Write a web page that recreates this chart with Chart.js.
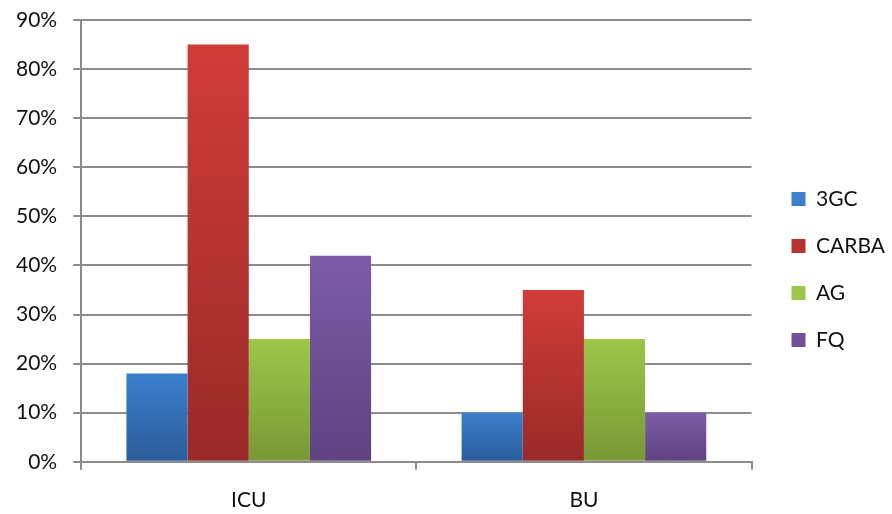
<!DOCTYPE html>
<html>
<head>
<meta charset="utf-8">
<script src="https://cdn.jsdelivr.net/npm/chart.js@4"></script>
<style>
  html, body { margin: 0; padding: 0; background: #fff; }
  #wrap { width: 892px; height: 514px; }
</style>
</head>
<body>
<div id="wrap"><canvas id="chart" width="892" height="514"></canvas></div>
<script>
const categories = ["ICU", "BU"];
const seriesNames = ["3GC", "CARBA", "AG", "FQ"];
const v3GC = [18, 10];
const vCARBA = [85, 35];
const vAG = [25, 25];
const vFQ = [42, 10];
const yTicks = [0, 10, 20, 30, 40, 50, 60, 70, 80, 90];

// [top, bottom, flat] colours per series
const colours = [
    ["#3b7fcd", "#2b5c9a", "#3570b8"],
    ["#d13c38", "#992a28", "#be3532"],
    ["#9dc64a", "#789834", "#8db23f"],
    ["#7e5ba9", "#5e4280", "#6f4f96"],
];

function barFill(i) {
    return function (ctx) {
        const c = colours[i];
        if (ctx.type !== "data" || !ctx.chart.chartArea) return c[2];
        const y = ctx.chart.scales.y;
        const top = y.getPixelForValue(ctx.raw);
        const bottom = y.getPixelForValue(0);
        if (!(bottom > top)) return c[2];
        const g = ctx.chart.ctx.createLinearGradient(0, top, 0, bottom);
        g.addColorStop(0, c[0]);
        g.addColorStop(1, c[1]);
        return g;
    };
}

// nudge the legend a bit right/down, like the original
const legendShift = {
    id: "legendShift",
    afterLayout(chart) {
        const lg = chart.legend;
        lg.left += 14; lg.right += 14;
        lg.top += 4; lg.bottom += 4;
    },
};

const values = [v3GC, vCARBA, vAG, vFQ];
const fam = "Lato, 'Open Sans', sans-serif";
const font = { family: fam, size: 21 };

new Chart(document.querySelector("#chart").getContext("2d"), {
    type: "bar",
    data: {
        labels: categories,
        datasets: seriesNames.map((name, i) => ({
            label: name,
            data: values[i],
            backgroundColor: barFill(i),
            borderWidth: 0,
            categoryPercentage: 0.73,
            barPercentage: 1,
        })),
    },
    plugins: [legendShift],
    options: {
        responsive: false,
        animation: false,
        layout: { padding: { top: 0, right: 11, left: 0, bottom: -17 } },
        plugins: {
            tooltip: { enabled: false },
            legend: {
                position: "right",
                labels: {
                    color: "#111",
                    font: font,
                    boxWidth: 14,
                    boxHeight: 14,
                    padding: 26,
                },
            },
        },
        scales: {
            x: {
                grid: {
                    offset: true,
                    drawOnChartArea: false,
                    drawTicks: true,
                    tickLength: 8,
                    color: "#8c8c8c",
                    lineWidth: 2,
                },
                border: { color: "#8c8c8c", width: 2 },
                ticks: { color: "#111", font: font, padding: 18 },
            },
            y: {
                min: 0,
                max: 90,
                afterBuildTicks: (axis) => { axis.ticks = yTicks.map(v => ({ value: v })); },
                afterFit: (axis) => { axis.paddingTop = 20; },
                grid: { color: "#8c8c8c", lineWidth: 2, tickLength: 8 },
                border: { color: "#8c8c8c", width: 2 },
                ticks: { color: "#111", font: font, padding: 16, callback: v => v + "%" },
            },
        },
    },
});
</script>
</body>
</html>
